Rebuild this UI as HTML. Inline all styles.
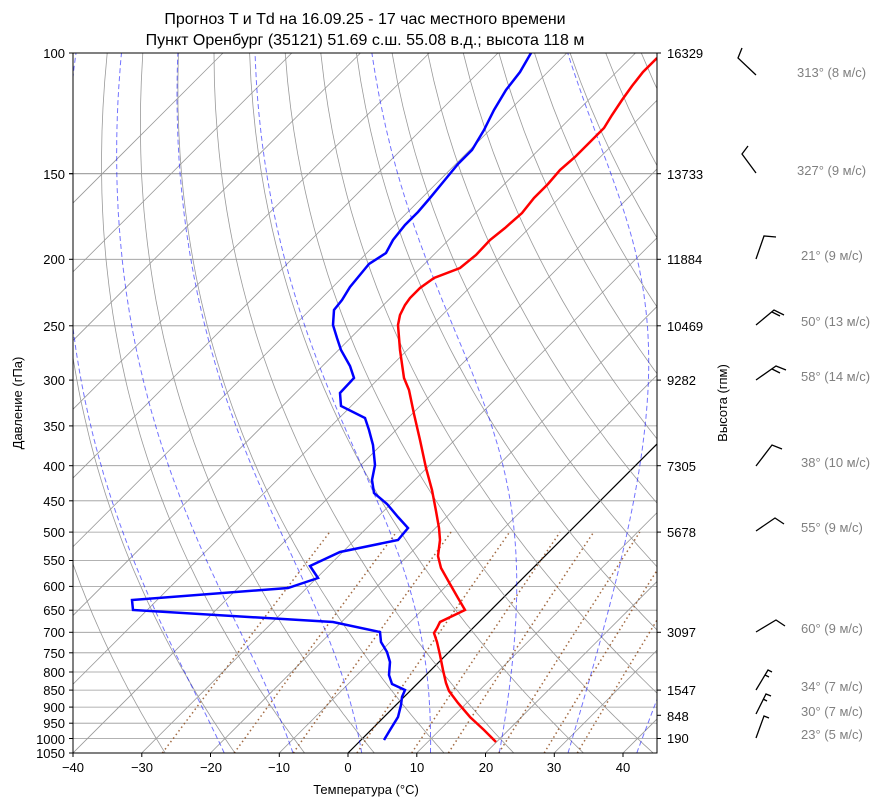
<!DOCTYPE html>
<html><head><meta charset="utf-8"><style>
body{margin:0;background:#fff;width:895px;height:806px;overflow:hidden;font-family:"Liberation Sans","DejaVu Sans",sans-serif}
svg{position:absolute;left:0;top:0}
text{font-family:"Liberation Sans","DejaVu Sans",sans-serif}
</style></head><body>
<svg id="s" width="895" height="806" xmlns="http://www.w3.org/2000/svg">
<defs><clipPath id="c"><rect x="73" y="53" width="584" height="700"/></clipPath></defs>
<g id="grid" clip-path="url(#c)"></g>
<g clip-path="url(#c)">
<polyline fill="none" stroke="#f00" stroke-width="2.5" points="496,742 484,730 470,717 458,703 449,691 446,683 443,670 440,655 437,642 434,633 437,628 440,622 465,610 458,598 450,584 441,568 438,556 440,540 439,528 436,511 432,490 426,468 420,440 414,414 409,390 404,378 400,350 398,325 400,315 405,305 410,298 420,288 434,278 460,268 476,255 490,240 505,228 522,213 534,198 548,184 560,170 575,157 590,142 604,128 612,115 622,100 632,86 643,72 657,58"/>
<polyline fill="none" stroke="#00f" stroke-width="2.5" points="384,740 390,730 398,717 401,705 402,697 405,690 392,684 389,675 390,662 387,652 381,642 380,632 333,622 133,610 132,600 288,588 318,578 310,566 340,552 398,540 408,528 398,517 387,504 374,493 372,480 375,465 373,445 369,430 365,418 341,406 340,393 354,378 350,366 341,350 337,338 333,325 334,310 342,300 350,287 364,270 369,264 386,253 393,240 405,225 418,212 430,198 444,181 458,164 472,150 484,130 494,110 506,90 520,72 531,53"/>
</g>
<rect x="73" y="53" width="584" height="700" fill="none" stroke="#000" stroke-width="1"/>
<g id="ticks" stroke="#000" stroke-width="1"></g>
<g font-size="13" fill="#000" text-anchor="middle">
<text x="365" y="24" font-size="16">Прогноз T и Td на 16.09.25 - 17 час местного времени</text>
<text x="365" y="45" font-size="16">Пункт Оренбург (35121) 51.69 с.ш. 55.08 в.д.; высота 118 м</text>
<text x="73" y="772">−40</text><text x="142" y="772">−30</text><text x="211" y="772">−20</text><text x="279" y="772">−10</text><text x="348" y="772">0</text><text x="417" y="772">10</text><text x="486" y="772">20</text><text x="554" y="772">30</text><text x="623" y="772">40</text>
<text x="366" y="794">Температура (°C)</text>
<text transform="translate(22,403) rotate(-90)">Давление (гПа)</text>
<text transform="translate(727,403) rotate(-90)">Высота (гпм)</text>
</g>
<g font-size="13" text-anchor="end" id="pl">
<text x="65" y="58">100</text><text x="65" y="179">150</text><text x="65" y="264">200</text><text x="65" y="331">250</text><text x="65" y="385">300</text><text x="65" y="431">350</text><text x="65" y="471">400</text><text x="65" y="506">450</text><text x="65" y="537">500</text><text x="65" y="565">550</text><text x="65" y="591">600</text><text x="65" y="615">650</text><text x="65" y="637">700</text><text x="65" y="658">750</text><text x="65" y="677">800</text><text x="65" y="695">850</text><text x="65" y="712">900</text><text x="65" y="728">950</text><text x="65" y="744">1000</text><text x="65" y="758">1050</text>
</g>
<g font-size="13">
<text x="667" y="58">16329</text><text x="667" y="179">13733</text><text x="667" y="264">11884</text><text x="667" y="331">10469</text><text x="667" y="385">9282</text><text x="667" y="471">7305</text><text x="667" y="537">5678</text><text x="667" y="637">3097</text><text x="667" y="695">1547</text><text x="667" y="721">848</text><text x="667" y="743">190</text>
</g>
<g font-size="13" fill="#808080">
<text x="797" y="77">313° (8 м/с)</text><text x="797" y="175">327° (9 м/с)</text><text x="801" y="260">21° (9 м/с)</text><text x="801" y="326">50° (13 м/с)</text><text x="801" y="381">58° (14 м/с)</text><text x="801" y="467">38° (10 м/с)</text><text x="801" y="532">55° (9 м/с)</text><text x="801" y="633">60° (9 м/с)</text><text x="801" y="691">34° (7 м/с)</text><text x="801" y="716">30° (7 м/с)</text><text x="801" y="739">23° (5 м/с)</text>
</g>
<g stroke="#000" stroke-width="1.3" fill="none">
<polyline points="756,75 738,58 742,48"/>
<polyline points="756,173 742,154 748,146"/>
<polyline points="756,259 764,236 776,237"/>
<polyline points="756,325 774,310 784,315"/><line x1="772" y1="312" x2="780" y2="316"/>
<polyline points="756,380 776,366 786,370"/><line x1="772" y1="369" x2="780" y2="373"/>
<polyline points="756,466 772,445 782,449"/>
<polyline points="756,531 775,518 784,524"/>
<polyline points="756,632 776,620 785,626"/>
<polyline points="756,690 768,670 772,672"/><line x1="765" y1="675" x2="769" y2="677"/>
<polyline points="756,714 766,694 771,696"/><line x1="763" y1="699" x2="767" y2="701"/>
<polyline points="756,738 764,716 769,718"/>
</g>
</svg>
<script>
var g=document.getElementById('grid'),tk=document.getElementById('ticks'),NS='http://www.w3.org/2000/svg';
function Y(p){return 53+297.7*Math.log(p/100);}
function X(T,p){return 348+6.875*T+(753-Y(p));}
function line(pts,st,par){var e=document.createElementNS(NS,'polyline');e.setAttribute('points',pts.map(function(a){return a[0].toFixed(1)+','+a[1].toFixed(1)}).join(' '));e.setAttribute('fill','none');for(var k in st)e.setAttribute(k,st[k]);(par||g).appendChild(e);}
var ps=[];for(var p=100;p<=1050;p+=50)ps.push(p);ps.push(150);
ps.forEach(function(p){line([[73,Y(p)],[657,Y(p)]],{stroke:'#999','stroke-width':0.8});line([[69,Y(p)],[73,Y(p)]],{},tk);});
[100,150,200,250,300,400,500,700,850,925,1000].forEach(function(p){line([[657,Y(p)],[661,Y(p)]],{},tk);});
for(var T=-40;T<=40;T+=10)line([[348+6.875*T,753],[348+6.875*T,757]],{},tk);
for(var T=-120;T<=50;T+=10)line([[X(T,1050),753],[X(T,100),53]],{stroke:'#999','stroke-width':0.8});
line([[X(0,1050),753],[X(0,100),53]],{stroke:'#000','stroke-width':1.2});
for(var th=-30;th<=200;th+=10){var a=[];for(var p=1050;p>=100;p-=10){var t=(th+273.15)*Math.pow(p/1000,0.2857)-273.15;a.push([X(t,p),Y(p)]);}line(a,{stroke:'#999','stroke-width':0.8});}
function es(t){return 6.112*Math.exp(17.67*t/(t+243.5));}
function ml(t,p){var T=t+273.15,ws=0.622*es(t)/(p-es(t));var Lv=2.501e6,Rd=287,cp=1005;return (Rd*T+Lv*ws)/(cp+Lv*Lv*ws*0.622/(Rd*T*T))/p;}
[-18,-8,2,12,22,32,42].forEach(function(t0){var t=t0,a=[];for(var p=1050;p>=100;p-=2){a.push([X(t,p),Y(p)]);t-=ml(t,p)*2;}line(a,{stroke:'#00f','stroke-width':1,'stroke-dasharray':'5,3',opacity:0.55});});
[0.0004,0.001,0.002,0.004,0.007,0.01,0.016,0.024,0.032].forEach(function(w){var a=[];for(var p=1050;p>=500;p-=25){var e=w*p/(0.622+w),l=Math.log(e/6.112),td=243.5*l/(17.67-l);a.push([X(td,p),Y(p)]);}line(a,{stroke:'#8b4513','stroke-width':1.5,'stroke-dasharray':'1.5,3',opacity:0.8});});
</script>
</body></html>
